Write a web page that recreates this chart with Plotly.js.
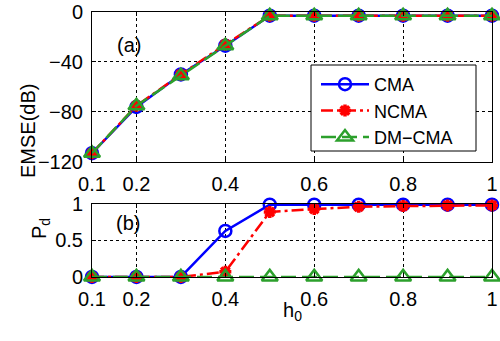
<!DOCTYPE html>
<html>
<head>
<meta charset="utf-8">
<script src="https://cdn.plot.ly/plotly-3.0.1.min.js"></script>
<style>html,body{margin:0;padding:0;background:#fff}#chart{width:500px;height:341px}</style>
</head>
<body>
<div id="chart"></div>
<script>
const h0 = [0.1, 0.2, 0.3, 0.4, 0.5, 0.6, 0.7, 0.8, 0.9, 1.0];
const emseCMA   = [-113, -76, -50, -27, -3, -3, -3, -3, -3, -3];
const emseNCMA  = [-113, -75, -50, -26, -3, -3, -3, -3, -3, -3];
const emseDMCMA = [-113, -75, -51, -27, -3, -3, -3, -3, -3, -3];
const pdCMA   = [0, 0, 0, 0.63, 0.99, 0.99, 0.99, 0.99, 0.99, 0.99];
const pdNCMA  = [0, 0, 0, 0.07, 0.89, 0.93, 0.96, 0.97, 0.98, 0.98];
const pdDMCMA = [0, 0, 0, 0, 0, 0, 0, 0, 0, 0];
const names = ['CMA', 'NCMA', 'DM\u2212CMA'];
const xTicks = [0.1, 0.2, 0.4, 0.6, 0.8, 1];
const xTickText = ['0.1', '0.2', '0.4', '0.6', '0.8', '1'];
const yTicksTop = [-120, -80, -40, 0];
const yTicksBot = [0, 0.5, 1];

const styles = [
  {line:{color:'#0000ff', width:2.5, dash:'solid'}, marker:{symbol:'circle-open', size:12, color:'#0000ff', line:{width:2.5, color:'#0000ff'}}},
  {line:{color:'#ff0000', width:2.5, dash:'12px,4px,3px,4px'}, marker:{symbol:'asterisk-open', size:10, color:'#ff0000', line:{width:3.5, color:'#ff0000'}}},
  {line:{color:'#2ca02c', width:2.5, dash:'15px,6px'}, marker:{symbol:'triangle-up-open', size:14, color:'#2ca02c', line:{width:2.5, color:'#2ca02c'}}}
];
const topData = [emseCMA, emseNCMA, emseDMCMA];
const botData = [pdCMA, pdNCMA, pdDMCMA];
const traces = [];
topData.forEach((d, i) => traces.push(Object.assign({x:h0, y:d, type:'scatter', mode:'lines+markers', name:names[i], xaxis:'x', yaxis:'y', cliponaxis:false}, styles[i])));
botData.forEach((d, i) => traces.push(Object.assign({x:h0, y:d, type:'scatter', mode:'lines+markers', name:names[i], xaxis:'x2', yaxis:'y2', cliponaxis:false, showlegend:false}, styles[i])));

const font = {family:'Liberation Sans, Arial, sans-serif', size:20, color:'#000'};
const legFont = {family:'Liberation Sans, Arial, sans-serif', size:18, color:'#000'};
const axBase = {showline:true, linecolor:'#000', linewidth:1, mirror:'ticks', ticks:'inside', ticklen:4, tickcolor:'#000',
  showgrid:true, gridcolor:'#000', griddash:'dot', gridwidth:1, zeroline:false, tickfont:font, ticklabelstandoff:4};

const layout = {
  width:500, height:341, margin:{l:0, r:0, t:0, b:0}, paper_bgcolor:'#fff', plot_bgcolor:'#fff', font:font,
  xaxis: Object.assign({}, axBase, {domain:[0.184, 0.984], range:[0.1, 1], tickvals:xTicks, ticktext:xTickText, anchor:'y'}),
  yaxis: Object.assign({}, axBase, {domain:[0.525, 0.965], range:[-120, 0], tickvals:yTicksTop, anchor:'x'}),
  xaxis2: Object.assign({}, axBase, {domain:[0.184, 0.984], range:[0.1, 1], tickvals:xTicks, ticktext:xTickText, anchor:'y2'}),
  yaxis2: Object.assign({}, axBase, {domain:[0.188, 0.402], range:[0, 1], tickvals:yTicksBot, anchor:'x2'}),
  legend: {x:316/500, y:1-66/341, xanchor:'left', yanchor:'top', bgcolor:'rgba(0,0,0,0)', borderwidth:0, font:legFont, itemwidth:48, tracegroupgap:0},
  showlegend:true,
  shapes: [
    {type:'rect', xref:'paper', yref:'paper', x0:311/500, x1:476/500, y0:1-151/341, y1:1-65/341, fillcolor:'#fff', line:{color:'#000', width:1}, layer:'above'}
  ],
  annotations: [
    {text:'EMSE(dB)', xref:'paper', yref:'paper', x:15/500, y:1-82/341, showarrow:false, textangle:-90, font:font},
    {text:'P<sub>d</sub>', xref:'paper', yref:'paper', x:26/500, y:1-241/341, showarrow:false, textangle:-90, font:font},
    {text:'h<sub>0</sub>', xref:'paper', yref:'paper', x:292/500, y:1-326/341, showarrow:false, font:font},
    {text:'(a)', xref:'paper', yref:'paper', x:115/500, y:1-32/341, showarrow:false, font:font},
    {text:'(b)', xref:'paper', yref:'paper', x:114/500, y:1-223/341, showarrow:false, font:font}
  ]
};
Plotly.newPlot('chart', traces, layout, {displayModeBar:false, staticPlot:true});
</script>
</body>
</html>
